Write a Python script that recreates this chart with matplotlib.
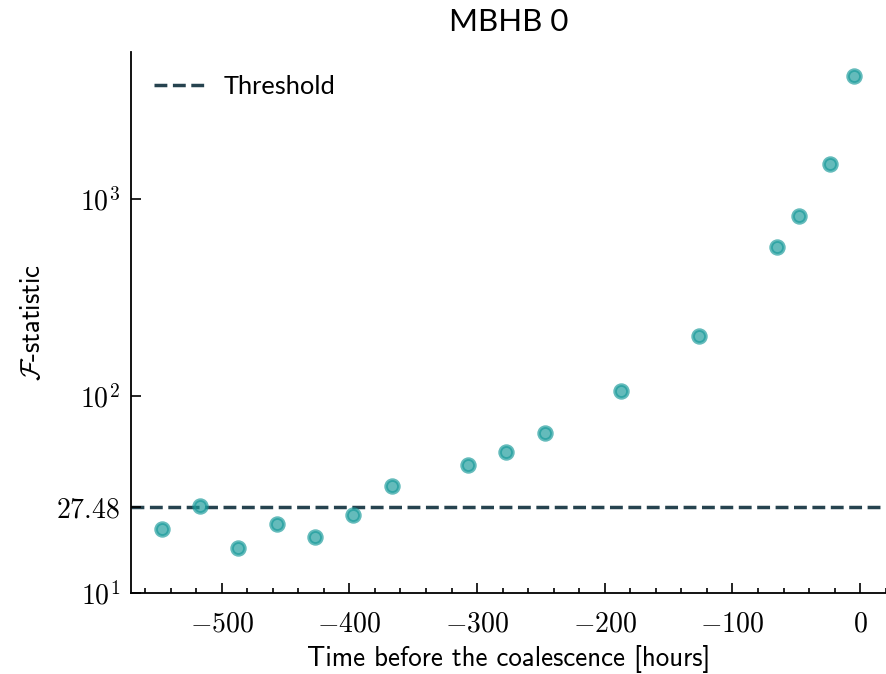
import matplotlib
matplotlib.use("Agg")
import matplotlib.pyplot as plt
from matplotlib.ticker import FixedLocator, MultipleLocator, NullLocator

plt.rcParams['mathtext.fontset'] = 'cm'

# data
time_hours = [-547, -517, -487, -457, -427, -397, -367, -307, -277, -247,
              -187, -126, -65, -48, -24, -5]
f_stat = [21.2, 27.7, 16.9, 22.3, 19.2, 24.9, 34.8, 44.5, 52.2, 64.9,
          106.3, 203, 571, 822, 1507, 4236]
threshold = 27.48
ytick_vals = [10, 27.48, 100, 1000]
ytick_labels = [r'$10^1$', r'$27.48$', r'$10^2$', r'$10^3$']
xtick_vals = [-500, -400, -300, -200, -100, 0]

fig = plt.figure(figsize=(8.87, 6.74), dpi=100)
ax = fig.add_axes([131/887, 81/674, (887-131)/887, (593-52)/674])

ax.axhline(threshold, color='#26434f', ls='--', lw=2.5, label='Threshold', zorder=1)
ax.scatter(time_hours, f_stat, s=85, color='#1a9b9b', alpha=0.68, lw=2.6, zorder=2)

ax.set_yscale('log')
ax.set_ylim(10, 5600)
ax.set_xlim(-571, 21)

ax.yaxis.set_major_locator(FixedLocator(ytick_vals))
ax.set_yticklabels(ytick_labels)
ax.yaxis.set_minor_locator(NullLocator())
ax.xaxis.set_major_locator(FixedLocator(xtick_vals))
ax.set_xticklabels([r'$%d$' % v for v in xtick_vals])
ax.xaxis.set_minor_locator(MultipleLocator(20))

ax.tick_params(which='both', direction='in', labelsize=20, width=1.2)
ax.tick_params(which='major', length=7)
ax.tick_params(which='minor', length=3.5)
ax.tick_params(axis='x', pad=12)
ax.tick_params(axis='y', pad=8)

for s in ['top', 'right']:
    ax.spines[s].set_visible(False)
for s in ['left', 'bottom']:
    ax.spines[s].set_linewidth(1.3)

ax.set_xlabel('Time before the coalescence [hours]', fontsize=19.4, family=['cmss10', 'DejaVu Sans'], labelpad=5)
ax.set_ylabel(r'$\mathcal{F}$-statistic', fontsize=19.4, family=['cmss10', 'DejaVu Sans'], labelpad=8)
ax.set_title('MBHB 0', fontsize=22.5, family='Lato', pad=15)

leg = ax.legend(loc='upper left', frameon=False, prop={'family': 'Lato', 'size': 18.3},
                handlelength=2.0, handletextpad=0.75, borderaxespad=0.5)

fig.savefig('out.png', dpi=100)
